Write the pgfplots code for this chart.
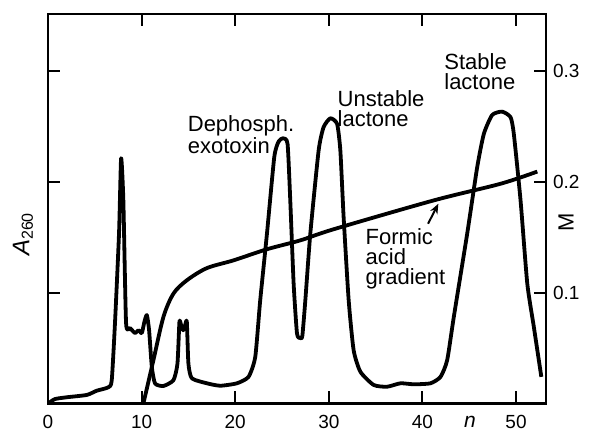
\documentclass[border=0pt]{standalone}
\usepackage{fontspec}
\setmainfont{Liberation Sans}
\usepackage{pgfplots}
\pgfplotsset{compat=1.18}
\usetikzlibrary{arrows.meta}

\begin{document}
\begin{tikzpicture}
\path[use as bounding box] (-24pt,-13.75pt) rectangle (275.5pt,201.75pt);
\begin{axis}[
    scale only axis,
    width=249pt, height=194.75pt,
    xmin=0, xmax=53.2, ymin=0, ymax=0.351,
    axis line style={line width=1.1pt},
    xtick={0,10,20,30,40,50},
    ytick={0.1,0.2,0.3},
    tick pos=both,
    tick align=inside,
    major tick length=6pt,
    tick style={line width=1pt, black},
    yticklabel pos=right,
    xticklabel pos=bottom,
    ticklabel style={font=\fontsize{9.5}{11}\selectfont},
    xticklabel style={yshift=-2.5pt},
    /pgf/number format/assume math mode=true,
    yticklabel style={/pgf/number format/.cd, fixed, fixed zerofill, precision=1},
]
% A260 elution profile
\addplot[line width=1.9pt, smooth, tension=0.35, line join=round] coordinates {
    (0,0) (0.75,0.004) (2.0,0.0056) (4.14,0.0077) (5.2,0.0115) (6.45,0.0146)
    (6.81,0.021) (7.17,0.075) (7.59,0.154) (7.81,0.221) (8.05,0.183) (8.34,0.0725)
    (8.77,0.068) (9.3,0.0635) (9.66,0.066) (10.02,0.0635) (10.3,0.0737) (10.56,0.0797)
    (10.8,0.066) (11.09,0.033) (11.44,0.018) (12.33,0.0158) (13.4,0.021) (13.83,0.036)
    (14.04,0.0737) (14.22,0.0707) (14.44,0.066) (14.65,0.0707) (14.83,0.0737) (15.0,0.036)
    (15.37,0.0227) (16.97,0.0182) (18.4,0.016) (20.18,0.0182) (21.42,0.024) (22.14,0.042)
    (22.67,0.093) (23.39,0.153) (24.17,0.222) (24.63,0.236) (25.1,0.239) (25.59,0.234)
    (25.88,0.183) (26.24,0.108) (26.6,0.063) (26.95,0.059) (27.17,0.061) (27.49,0.093)
    (28.02,0.153) (28.91,0.228) (29.44,0.249) (30.16,0.257) (30.88,0.252) (31.23,0.228)
    (31.58,0.168) (32.12,0.093) (32.65,0.048) (33.37,0.0286) (34.79,0.0167) (36.22,0.0151)
    (37.65,0.0182) (39.07,0.0173) (40.86,0.0182) (41.93,0.024) (42.64,0.039) (43.35,0.078)
    (44.78,0.153) (45.85,0.213) (46.56,0.243) (47.45,0.26) (48.52,0.263) (49.41,0.258)
    (49.76,0.243) (50.48,0.183) (51.2,0.108) (51.9,0.069) (52.7,0.024)
};
% formic acid gradient (M)
\addplot[line width=1.9pt, smooth, tension=0.5, line join=round] coordinates {
    (10.19,0) (11.26,0.039) (12.33,0.078) (13.4,0.099) (14.83,0.111) (16.97,0.122)
    (19.82,0.129) (23.39,0.139) (26.95,0.147) (30.51,0.157) (41.2,0.183) (48.34,0.198)
    (52.27,0.209)
};
\addplot[line width=1pt, -{Stealth[length=5pt,width=4pt]}] coordinates {(40.6,0.162) (41.7,0.180)};

\node[anchor=north west, align=left, inner sep=0pt, font=\fontsize{11}{10}\selectfont]
    at (axis cs:14.9,0.26) {Dephosph.\\exotoxin};
\node[anchor=north west, align=left, inner sep=0pt, font=\fontsize{11}{10}\selectfont]
    at (axis cs:30.9,0.282) {Unstable\\lactone};
\node[anchor=north west, align=left, inner sep=0pt, font=\fontsize{11}{10}\selectfont]
    at (axis cs:42.3,0.3155) {Stable\\lactone};
\node[anchor=north west, align=left, inner sep=0pt, font=\fontsize{11}{10}\selectfont]
    at (axis cs:33.9,0.158) {Formic\\acid\\gradient};
\end{axis}
% axis titles (axis box has its lower left corner at the origin)
\node[rotate=90, font=\fontsize{12}{14}\selectfont] at (-12.5pt,84.75pt) {\textit{A}\textsubscript{260}};
\node[rotate=90, font=\fontsize{11}{12}\selectfont] at (259pt,90.75pt) {M};
\node[font=\fontsize{10.5}{12}\selectfont, inner sep=0pt] at (211pt,-9.3pt) {\textit{n}};
\end{tikzpicture}
\end{document}
